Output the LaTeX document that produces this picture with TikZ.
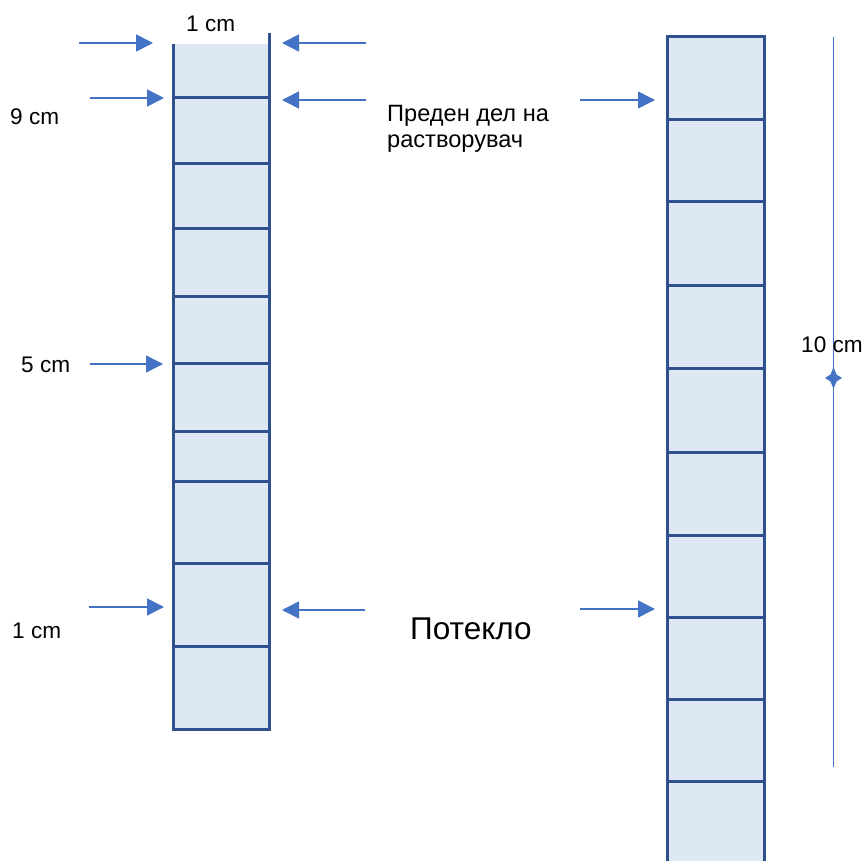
\documentclass[tikz,border=0pt]{standalone}
\usepackage{fontspec}
\setmainfont{Liberation Sans}
\usetikzlibrary{arrows.meta}
\definecolor{arrblue}{HTML}{4472C4}
\definecolor{edgeblue}{HTML}{2F528F}
\definecolor{cellfill}{HTML}{DEE8F4}
\tikzset{
  ptr/.style={draw=arrblue, line width=1.6pt, -{Triangle[length=17pt,width=17pt]}},
  coledge/.style={draw=edgeblue, line width=3pt},
  lbl/.style={inner sep=0pt, anchor=base west, font=\fontsize{22.6}{26}\selectfont},
  cyrlbl/.style={inner sep=0pt, anchor=base west, font=\fontsize{23.6}{26}\selectfont},
  biglbl/.style={inner sep=0pt, anchor=base west, font=\fontsize{31.5}{34}\selectfont}
}
\begin{document}
\begin{tikzpicture}[x=1pt,y=-1pt]
\useasboundingbox (0,0) rectangle (867,861);
\clip (0,0) rectangle (867,861);
% left column
\fill[cellfill] (173,44) rectangle (269,729);
\draw[coledge] (173,44) -- (173,730.5);
\draw[coledge] (269,33) -- (269,730.5);
\draw[coledge] (171.5,729) -- (270.5,729);
\foreach \yy in {98,164,228,296,363,431,481,563,646}
  \draw[coledge] (173,\yy) -- (269,\yy);
% right column
\fill[cellfill] (667,37) rectangle (764,880);
\draw[coledge] (667,37) rectangle (764,880);
\foreach \yy in {120,202,285,368,452,535,617,699,781}
  \draw[coledge] (667,\yy) -- (764,\yy);
% coordinates for arrows
\coordinate (a1s) at (79,43);   \coordinate (a1e) at (153,43);
\coordinate (a2s) at (366,43);  \coordinate (a2e) at (282,43);
\coordinate (a3s) at (90,98);   \coordinate (a3e) at (164,98);
\coordinate (a4s) at (366,100); \coordinate (a4e) at (282,100);
\coordinate (a5s) at (580,100); \coordinate (a5e) at (655,100);
\coordinate (a6s) at (90,364);  \coordinate (a6e) at (163,364);
\coordinate (a7s) at (89,607);  \coordinate (a7e) at (164,607);
\coordinate (a8s) at (365,610); \coordinate (a8e) at (282,610);
\coordinate (a9s) at (580,609); \coordinate (a9e) at (655,609);
\foreach \i in {1,...,9} \draw[ptr] (a\i s) -- (a\i e);
% dimension line
\coordinate (dtop) at (833.5,37);
\coordinate (dbot) at (833.5,767);
\coordinate (dmid) at (833.5,378);
\draw[arrblue, line width=1.8pt] (dtop) -- (dbot);
\fill[arrblue] (833.5,367) -- (836.5,374.5) -- (842,378) -- (836.5,381.5) -- (833.5,389)
  -- (830.5,381.5) -- (825,378) -- (830.5,374.5) -- cycle;
% labels
\node[lbl] (t1) at (186,32) {1 cm};
\node[lbl] (t9) at (10,125) {9 cm};
\node[lbl] (t5) at (21,372) {5 cm};
\node[lbl] (tb) at (12,638) {1 cm};
\node[cyrlbl] (tp1) at (387,122) {Преден дел на};
\node[cyrlbl] (tp2) at (387,148) {растворувач};
\node[biglbl] (tpot) at (410,639) {Потекло};
\node[lbl] (t10) at (801,352) {10 cm};
\end{tikzpicture}
\end{document}
